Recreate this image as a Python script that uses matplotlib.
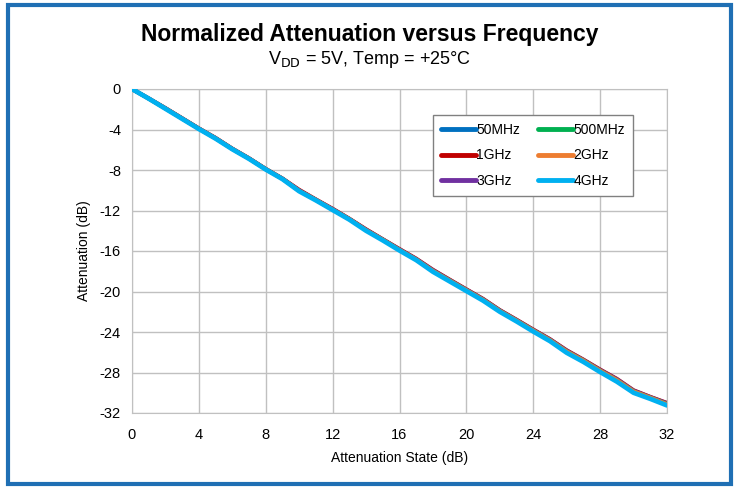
import matplotlib
matplotlib.use("Agg")
import matplotlib.pyplot as plt
from matplotlib.patches import Rectangle

plt.rcParams['font.family'] = ['Liberation Sans', 'DejaVu Sans']
plt.rcParams['axes.unicode_minus'] = False

# attenuation state (dB)
state = [0, 1, 2, 3, 4, 5, 6, 7, 8, 9, 10, 11, 12, 13, 14, 15, 16,
         17, 18, 19, 20, 21, 22, 23, 24, 25, 26, 27, 28, 29, 30, 31, 32]

att_50mhz = [0, -0.95, -1.92, -2.92, -3.92, -4.87, -5.92, -6.87, -7.92, -8.87, -10.05, -10.95, -11.9,
             -12.85, -13.93, -14.88, -15.88, -16.83, -17.95, -18.9, -19.85, -20.8, -21.9, -22.85,
             -23.83, -24.78, -25.9, -26.8, -27.8, -28.73, -29.85, -30.47, -31.1]
att_500mhz = [0, -0.95, -1.92, -2.92, -3.92, -4.87, -5.92, -6.87, -7.92, -8.87, -10.05, -10.95, -11.9,
              -12.85, -13.93, -14.88, -15.88, -16.83, -17.95, -18.9, -19.85, -20.8, -21.9, -22.85,
              -23.83, -24.78, -25.9, -26.8, -27.8, -28.73, -29.85, -30.47, -31.1]
att_1ghz = [0, -0.92, -1.88, -2.88, -3.88, -4.82, -5.88, -6.83, -7.88, -8.83, -9.95, -10.9, -11.82,
            -12.8, -13.85, -14.83, -15.8, -16.75, -17.85, -18.82, -19.78, -20.72, -21.83, -22.78,
            -23.75, -24.7, -25.8, -26.72, -27.7, -28.62, -29.75, -30.4, -31.0]
att_2ghz = [0, -0.95, -1.92, -2.92, -3.92, -4.87, -5.92, -6.87, -7.92, -8.87, -10.05, -10.95, -11.9,
            -12.85, -13.93, -14.88, -15.88, -16.83, -17.95, -18.9, -19.85, -20.8, -21.9, -22.85,
            -23.83, -24.78, -25.9, -26.8, -27.8, -28.73, -29.85, -30.47, -31.12]
att_3ghz = [0, -0.94, -1.9, -2.9, -3.9, -4.85, -5.9, -6.85, -7.9, -8.85, -10.0, -10.93, -11.85,
            -12.83, -13.88, -14.85, -15.83, -16.78, -17.88, -18.85, -19.8, -20.75, -21.85, -22.8,
            -23.78, -24.72, -25.83, -26.75, -27.73, -28.65, -29.78, -30.42, -31.03]
att_4ghz = [0, -0.95, -1.95, -2.95, -3.95, -4.9, -5.95, -6.9, -7.95, -8.9, -10.1, -11.0, -11.95,
            -12.9, -14.0, -14.95, -15.95, -16.9, -18.05, -19.0, -19.95, -20.9, -22.0, -22.95,
            -23.95, -24.9, -26.05, -26.95, -27.95, -28.9, -30.0, -30.6, -31.25]

series = [
    ("50MHz", att_50mhz, "#0070C0"),
    ("1GHz", att_1ghz, "#C00000"),
    ("3GHz", att_3ghz, "#7030A0"),
    ("500MHz", att_500mhz, "#00B050"),
    ("2GHz", att_2ghz, "#ED7D31"),
    ("4GHz", att_4ghz, "#00B0F0"),
]

fig = plt.figure(figsize=(7.4, 4.87), dpi=100)
ax = fig.add_axes([132 / 740, 1 - 413 / 487, 535 / 740, 324 / 487])

for name, vals, col in series:
    ax.plot(state, vals, color=col, lw=3.4 if name == "4GHz" else 2.8,
            label=name, solid_capstyle='round', solid_joinstyle='round', zorder=3)

ax.set_xlim(0, 32)
ax.set_ylim(-32, 0)
ax.set_xticks(range(0, 33, 4))
ax.set_yticks(range(-32, 1, 4))
ax.grid(True, color='#C0C0C0', lw=1.0)
for s in ax.spines.values():
    s.set_color('#C0C0C0')
ax.tick_params(length=0, labelsize=10.5, pad=8)
ax.tick_params(axis='x', pad=11)
ax.set_xlabel("Attenuation State (dB)", fontsize=10, labelpad=6)
ax.set_ylabel("Attenuation (dB)", fontsize=10, labelpad=6)

leg = ax.legend(ncol=2, loc='upper left', bbox_to_anchor=(0.563, 0.92),
                borderaxespad=0, fontsize=10, fancybox=False, framealpha=1,
                edgecolor='#808080', handlelength=2.5, handletextpad=0.05,
                columnspacing=1.3, labelspacing=0.85, borderpad=0.55)
leg.get_frame().set_linewidth(1.0)
for line in leg.get_lines():
    line.set_linewidth(3.5)

fig.text(0.5, 1 - 34 / 487, "Normalized Attenuation versus Frequency",
         ha='center', va='center', fontsize=16.5, fontweight='bold')
fig.text(0.5, 1 - 60 / 487, r"V$_{\mathrm{DD}}$ = 5V, Temp = +25°C",
         ha='center', va='center', fontsize=13)

fig.patches.append(Rectangle((8 / 740, 3 / 487), 723 / 740, 479 / 487,
                             transform=fig.transFigure, fill=False,
                             edgecolor='#1F6FB4', lw=3))

fig.savefig("out.png", dpi=100)
